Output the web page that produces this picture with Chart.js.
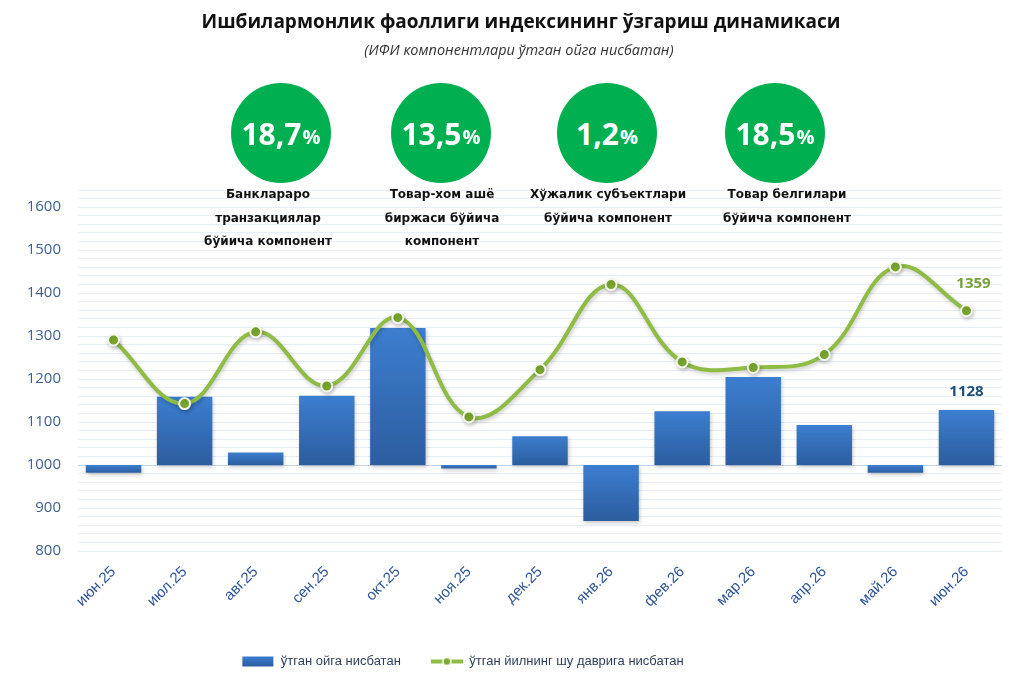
<!DOCTYPE html>
<html>
<head>
<meta charset="utf-8">
<script src="https://cdn.jsdelivr.net/npm/chart.js@4.4.1/dist/chart.umd.min.js"></script>
<style>
html, body { margin: 0; padding: 0; background: #fff; }
#wrap { position: relative; width: 1024px; height: 689px; overflow: hidden; }
#chart { position: absolute; left: 0; top: 0; }
.title { position: absolute; left: 0; width: 1042px; top: 8px; text-align: center;
  font: bold 19px "Open Sans", sans-serif; color: #111; }
.subtitle { position: absolute; left: 0; width: 1038px; top: 40px; text-align: center;
  font: italic 14.5px "Open Sans", sans-serif; color: #333; }
.circle { position: absolute; width: 100px; height: 100px; border-radius: 50%; background: #00B050;
  color: #fff; display: flex; align-items: center; justify-content: center;
  font: bold 30px "Open Sans", sans-serif; }
.circle span { font-size: 20px; margin-left: 1px; margin-top: 6px; }
.comp { position: absolute; width: 200px; text-align: center;
  font: bold 12px "DejaVu Sans", sans-serif; line-height: 23.5px; color: #111; }
</style>
</head>
<body>
<div id="wrap">
  <canvas id="chart" width="1024" height="689"></canvas>
  <div class="title">Ишбилармонлик фаоллиги индексининг ўзгариш динамикаси</div>
  <div class="subtitle">(ИФИ компонентлари ўтган ойга нисбатан)</div>
</div>
<script>
// months on the x axis
const months = ['июн.25', 'июл.25', 'авг.25', 'сен.25', 'окт.25', 'ноя.25', 'дек.25',
  'янв.26', 'фев.26', 'мар.26', 'апр.26', 'май.26', 'июн.26'];

// bars: compared with previous month (base 1000)
const prevMonth = [982, 1159, 1029, 1161, 1319, 992, 1067, 870, 1125, 1205, 1093, 982, 1128];

// line: compared with same period of last year
const prevYear = [1291, 1143, 1310, 1184, 1343, 1112, 1222, 1420, 1240, 1227, 1257, 1461, 1359];

const baseValue = 1000;

// component circles on top
const compValues = ['18,7', '13,5', '1,2', '18,5'];
const compNames = [
  ['Банклараро', 'транзакциялар', 'бўйича компонент'],
  ['Товар-хом ашё', 'биржаси бўйича', 'компонент'],
  ['Хўжалик субъектлари', 'бўйича компонент'],
  ['Товар белгилари', 'бўйича компонент']
];
const seriesNames = ['ўтган ойга нисбатан', 'ўтган йилнинг шу даврига нисбатан'];

// place circles and their captions
const circleX = [281, 441, 607, 775];
const captionX = [268, 442, 608, 787];
const wrap = document.getElementById('wrap');
compValues.forEach(function (val, i) {
  const c = document.createElement('div');
  c.className = 'circle';
  c.style.left = (circleX[i] - 50) + 'px';
  c.style.top = '83px';
  c.innerHTML = val + '<span>%</span>';
  wrap.appendChild(c);

  const t = document.createElement('div');
  t.className = 'comp';
  t.style.left = (captionX[i] - 100) + 'px';
  t.style.top = '183px';
  t.innerHTML = compNames[i].join('<br>');
  wrap.appendChild(t);
});

// little canvases for legend markers (blank strip on the left = gap between items)
const gapW = 20;
function legendMarker(kind) {
  const cv = document.createElement('canvas');
  cv.width = 32 + gapW; cv.height = 12;
  const g = cv.getContext('2d');
  const x0 = gapW;
  if (kind === 'bar') {
    const gr = g.createLinearGradient(0, 1, 0, 11);
    gr.addColorStop(0, '#3C7ECF');
    gr.addColorStop(1, '#2C5D9F');
    g.fillStyle = gr;
    g.fillRect(x0, 1, 31, 10);
  } else {
    g.strokeStyle = '#8FBC45';
    g.lineWidth = 4;
    g.beginPath(); g.moveTo(x0, 6); g.lineTo(x0 + 32, 6); g.stroke();
    g.fillStyle = '#7DAA2F';
    g.strokeStyle = '#fff';
    g.lineWidth = 1.5;
    g.beginPath(); g.arc(x0 + 16, 6, 4, 0, Math.PI * 2); g.fill(); g.stroke();
  }
  return cv;
}
const markers = [legendMarker('bar'), legendMarker('line')];

function barFill(ctx) {
  const chart = ctx.chart;
  const y = chart.scales.y;
  if (!chart.chartArea || !y) return '#3570BC';
  const v = prevMonth[ctx.dataIndex];
  const top = y.getPixelForValue(Math.max(v, baseValue));
  const bot = y.getPixelForValue(Math.min(v, baseValue));
  if (bot - top < 1) return '#3570BC';
  const g = chart.ctx.createLinearGradient(0, top, 0, bot);
  g.addColorStop(0, '#3C7ECF');
  g.addColorStop(1, '#2C5D9F');
  return g;
}

const shadowPlugin = {
  id: 'shadows',
  beforeDatasetDraw(chart) {
    const ctx = chart.ctx;
    ctx.save();
    ctx.shadowColor = 'rgba(0,0,0,0.22)';
    ctx.shadowBlur = 4;
    ctx.shadowOffsetX = 1;
    ctx.shadowOffsetY = 2;
  },
  afterDatasetDraw(chart) {
    chart.ctx.restore();
  }
};

// legend in the original sits a bit left of centre
const legendShift = {
  id: 'legendShift',
  afterLayout(chart) {
    if (chart.legend) {
      chart.legend.left -= 48;
      chart.legend.right -= 48;
    }
  }
};

const lastLabels = {
  id: 'lastLabels',
  afterDatasetsDraw(chart) {
    const ctx = chart.ctx;
    const last = months.length - 1;
    const bar = chart.getDatasetMeta(0).data[last];
    const pt = chart.getDatasetMeta(1).data[last];
    ctx.save();
    ctx.font = 'bold 15px "Open Sans", sans-serif';
    ctx.textAlign = 'center';
    ctx.textBaseline = 'middle';
    ctx.fillStyle = '#76A03A';
    ctx.fillText(String(prevYear[last]), pt.x + 7, pt.y - 27);
    ctx.fillStyle = '#1F4E79';
    ctx.fillText(String(prevMonth[last]), bar.x, bar.y - 18);
    ctx.restore();
  }
};

new Chart(document.getElementById('chart'), {
  type: 'bar',
  data: {
    labels: months,
    datasets: [
      {
        type: 'bar',
        label: seriesNames[0],
        data: prevMonth.map(v => [baseValue, v]),
        backgroundColor: barFill,
        borderWidth: 0,
        barPercentage: 0.78,
        categoryPercentage: 1,
        order: 2
      },
      {
        type: 'line',
        label: seriesNames[1],
        data: prevYear,
        borderColor: '#8FBC45',
        borderWidth: 4,
        tension: 0.4,
        pointRadius: 5.5,
        pointBackgroundColor: '#7DAA2F',
        pointBorderColor: '#F4F8EC',
        pointBorderWidth: 2,
        order: 1
      }
    ]
  },
  options: {
    responsive: false,
    animation: false,
    layout: { padding: { top: 190, right: 22, bottom: 11, left: 0 } },
    plugins: {
      tooltip: { enabled: false },
      legend: {
        position: 'bottom',
        labels: {
          usePointStyle: true,
          pointStyleWidth: 32 + gapW,
          padding: 10,
          color: '#2E3F5A',
          font: { family: 'Liberation Sans', size: 13 },
          sort: (a, b) => a.datasetIndex - b.datasetIndex,
          generateLabels(chart) {
            const items = Chart.defaults.plugins.legend.labels.generateLabels(chart);
            items.forEach(it => { it.pointStyle = markers[it.datasetIndex]; });
            return items;
          }
        }
      }
    },
    scales: {
      x: {
        grid: { display: false },
        border: { display: false },
        ticks: {
          color: '#2F5496',
          font: { family: 'Liberation Sans', size: 15 },
          minRotation: 45,
          maxRotation: 45,
          padding: 4
        },
        afterFit(scale) { scale.height = 94; }
      },
      y: {
        min: 800,
        max: 1640,
        border: { display: false },
        grid: {
          drawTicks: false,
          color: ctx => ctx.tick && ctx.tick.value === baseValue ? '#BDD3EE' : '#E6EEF7',
          lineWidth: 1
        },
        ticks: {
          stepSize: 20,
          autoSkip: false,
          padding: 17,
          color: '#3F5F8F',
          font: { family: 'Open Sans', size: 15 },
          callback: v => (v % 100 === 0 && v <= 1600) ? String(v) : ''
        },
        afterFit(scale) { scale.width = 78; }
      }
    }
  },
  plugins: [shadowPlugin, legendShift, lastLabels]
});
</script>
</body>
</html>
